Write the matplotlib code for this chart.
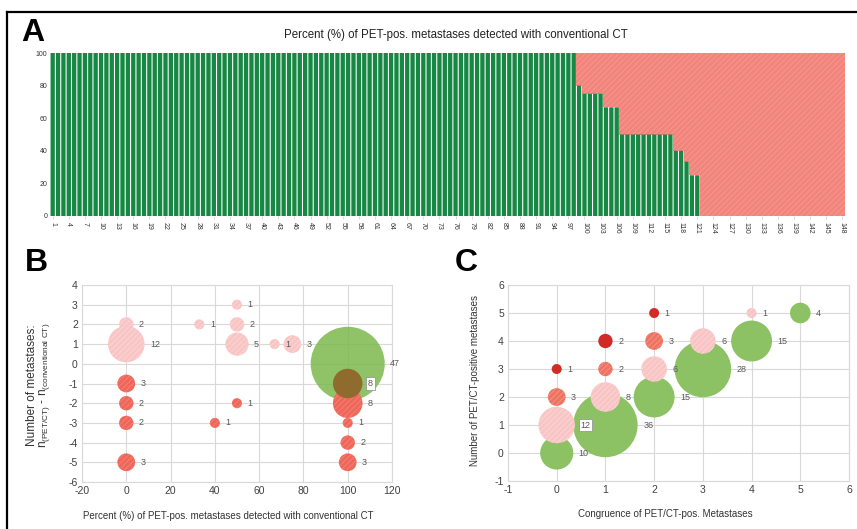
import numpy as np
import matplotlib
matplotlib.use("Agg")
import matplotlib.pyplot as plt
from matplotlib.lines import Line2D

plt.rcParams['font.family'] = ['Liberation Sans', 'DejaVu Sans']
plt.rcParams['hatch.linewidth'] = 0.6
plt.rcParams['axes.unicode_minus'] = False
plt.rcParams['mathtext.fontset'] = 'custom'
plt.rcParams['mathtext.rm'] = 'Liberation Sans'
plt.rcParams['mathtext.it'] = 'Liberation Sans'

# ---------------- Data ----------------
# Panel A: percent detected per patient (148 patients)
a_counts = [98, 1, 4, 3, 10, 2, 1, 2, 27]
a_levels = [100, 80, 75, 66.7, 50, 40, 33.3, 25, 0]
a_green = np.repeat(a_levels, a_counts)
a_patients = np.arange(1, len(a_green) + 1)
a_xticks = list(range(1, 149, 3))
a_yticks = [0, 20, 40, 60, 80, 100]

# Panel B
b_pink_x = [0, 0, 33, 50, 50, 50, 67, 75]
b_pink_y = [2, 1, 2, 3, 2, 1, 1, 1]
b_pink_n = [2, 12, 1, 1, 2, 5, 1, 3]
b_red_x = [0, 0, 0, 0, 50, 40, 100, 100, 100, 100]
b_red_y = [-1, -2, -3, -5, -2, -3, -2, -3, -4, -5]
b_red_n = [3, 2, 2, 3, 1, 1, 8, 1, 2, 3]
b_over_x = [100]
b_over_y = [-1]
b_over_n = [8]
b_green_x = [100]
b_green_y = [0]
b_green_n = [47]

# Panel C
c_green_x = [0, 1, 2, 3, 4, 5]
c_green_y = [0, 1, 2, 3, 4, 5]
c_green_n = [10, 36, 15, 28, 15, 4]
c_pink_x = [0, 1, 2, 3, 4]
c_pink_y = [1, 2, 3, 4, 5]
c_pink_n = [12, 8, 6, 6, 1]
c_mid_x = [0, 1, 2]
c_mid_y = [2, 3, 4]
c_mid_n = [3, 2, 3]
c_dark_x = [0, 1, 2]
c_dark_y = [3, 4, 5]
c_dark_n = [1, 2, 1]

# ---------------- Style ----------------
W, H = 857, 529
fig = plt.figure(figsize=(W / 100, H / 100), dpi=100)

def fx(px):
    return px / W

def fy(py):
    return 1 - py / H

GREEN_BAR = '#178744'
RED_AREA = '#F2847B'
PINK = '#F9C4C4'
RED = '#F0675A'
MID = '#EE7361'
DARK = '#D22B27'
GREEN = '#8CC263'
BROWN = '#8F6B2E'
TXT = '#595959'
GRID = '#D9D9D9'

def diam_pt(n):
    d_px = 10.0 * np.asarray(n, float) ** 0.52
    return d_px * 0.72

def sizes(n):
    return diam_pt(n) ** 2

# frame lines
fig.add_artist(Line2D([fx(7), 1], [fy(12), fy(12)], color='black', lw=1.6, transform=fig.transFigure))
fig.add_artist(Line2D([fx(7), fx(7)], [fy(12), 0], color='black', lw=1.6, transform=fig.transFigure))

# ---------------- Panel A ----------------
axA = fig.add_axes([fx(50), fy(216), fx(845) - fx(50), fy(53) - fy(216)])
redbars = axA.bar(a_patients, 100 - a_green, bottom=a_green, width=1.0, color=RED_AREA,
                  hatch='//////', edgecolor='#F49C95', linewidth=0)
greenbars = axA.bar(a_patients, a_green, width=0.8, color=GREEN_BAR, linewidth=0)
for p in greenbars:
    p.set_snap(False)
axA.set_xlim(0.5, 148.5)
axA.set_ylim(0, 100)
axA.set_xticks(a_xticks)
axA.set_xticklabels([str(t) for t in a_xticks], rotation=270, fontsize=5, color='#333333')
axA.set_yticks(a_yticks)
axA.set_yticklabels([str(t) for t in a_yticks], fontsize=5, color='#333333')
axA.tick_params(axis='x', length=2, width=0.5, color='#cccccc', pad=2)
axA.tick_params(axis='y', length=0, pad=2)
for s in axA.spines.values():
    s.set_visible(False)
fig.text(fx(456), fy(35), 'Percent (%) of PET-pos. metastases detected with conventional CT',
         ha='center', va='center', fontsize=8.3, color='#222222')
fig.text(fx(21), fy(33), 'A', fontsize=23, fontweight='bold', ha='left', va='center')

# ---------------- helpers ----------------
def style_bubble_axes(ax):
    ax.grid(True, color=GRID, lw=0.8)
    ax.set_axisbelow(True)
    for s in ax.spines.values():
        s.set_color(GRID)
        s.set_linewidth(0.8)
    ax.tick_params(length=0, labelsize=7.5, labelcolor='#404040', pad=3)

def bubbles(ax, xs, ys, ns, color, hatch=None, hatch_col=None, alpha=1.0, z=3, boxed=(), label=True):
    for x, y, n in zip(xs, ys, ns):
        ax.scatter([x], [y], s=sizes([n]), c=color, alpha=alpha, zorder=z,
                   hatch=hatch, edgecolors=hatch_col if hatch else 'none', linewidths=0)
        if label:
            off = diam_pt([n])[0] / 2 + 4
            bb = dict(boxstyle='square,pad=0.2', fc='white', ec='#999999', lw=0.6) if (x, y) in boxed else None
            ax.annotate(str(n), (x, y), xytext=(off, 0), textcoords='offset points',
                        va='center', ha='left', fontsize=6.5, color=TXT, zorder=10, bbox=bb)

# ---------------- Panel B ----------------
axB = fig.add_axes([fx(82), fy(482), fx(392) - fx(82), fy(285) - fy(482)])
style_bubble_axes(axB)
axB.set_xlim(-20, 120)
axB.set_ylim(-6, 4)
axB.set_xticks(range(-20, 121, 20))
axB.set_yticks(range(-6, 5))
bubbles(axB, b_pink_x, b_pink_y, b_pink_n, PINK, hatch='//////', hatch_col='#FBD8D8')
bubbles(axB, b_green_x, b_green_y, b_green_n, '#7DB84E', alpha=0.85, z=4)
bubbles(axB, b_red_x, b_red_y, b_red_n, RED, hatch='//////', hatch_col='#F2837A', z=5)
bubbles(axB, b_over_x, b_over_y, b_over_n, BROWN, z=6, boxed=[(100, -1)])
fig.text(fx(25), fy(263), 'B', fontsize=23, fontweight='bold', ha='left', va='center')
fig.text(fx(32), fy(385), 'Number of metastases:', rotation=90, ha='center', va='center',
         fontsize=8.5, color='#333333')
fig.text(fx(44), fy(385), r'n$_{\mathrm{(PET/CT)}}$ - n$_{\mathrm{(conventional\ CT)}}$', rotation=90,
         ha='center', va='center', fontsize=8.5, color='#333333')
fig.text(fx(228), fy(516), 'Percent (%) of PET-pos. metastases detected with conventional CT',
         ha='center', va='center', fontsize=7, color='#333333')

# ---------------- Panel C ----------------
axC = fig.add_axes([fx(508), fy(481), fx(849) - fx(508), fy(285) - fy(481)])
style_bubble_axes(axC)
axC.set_xlim(-1, 6)
axC.set_ylim(-1, 6)
axC.set_xticks(range(-1, 7))
axC.set_yticks(range(-1, 7))
bubbles(axC, c_green_x, c_green_y, c_green_n, GREEN, z=3)
bubbles(axC, c_pink_x, c_pink_y, c_pink_n, PINK, hatch='//////', hatch_col='#FBD8D8', z=4, boxed=[(0, 1)])
bubbles(axC, c_mid_x, c_mid_y, c_mid_n, MID, hatch='//////', hatch_col='#F4968A', z=5)
bubbles(axC, c_dark_x, c_dark_y, c_dark_n, DARK, z=6)
fig.text(fx(455), fy(263), 'C', fontsize=23, fontweight='bold', ha='left', va='center')
fig.text(fx(475), fy(380), 'Number of PET/CT-positive metastases', rotation=90,
         ha='center', va='center', fontsize=7, color='#333333')
fig.text(fx(665), fy(514), 'Congruence of PET/CT-pos. Metastases',
         ha='center', va='center', fontsize=7, color='#333333')

fig.savefig('out.png', dpi=100)
